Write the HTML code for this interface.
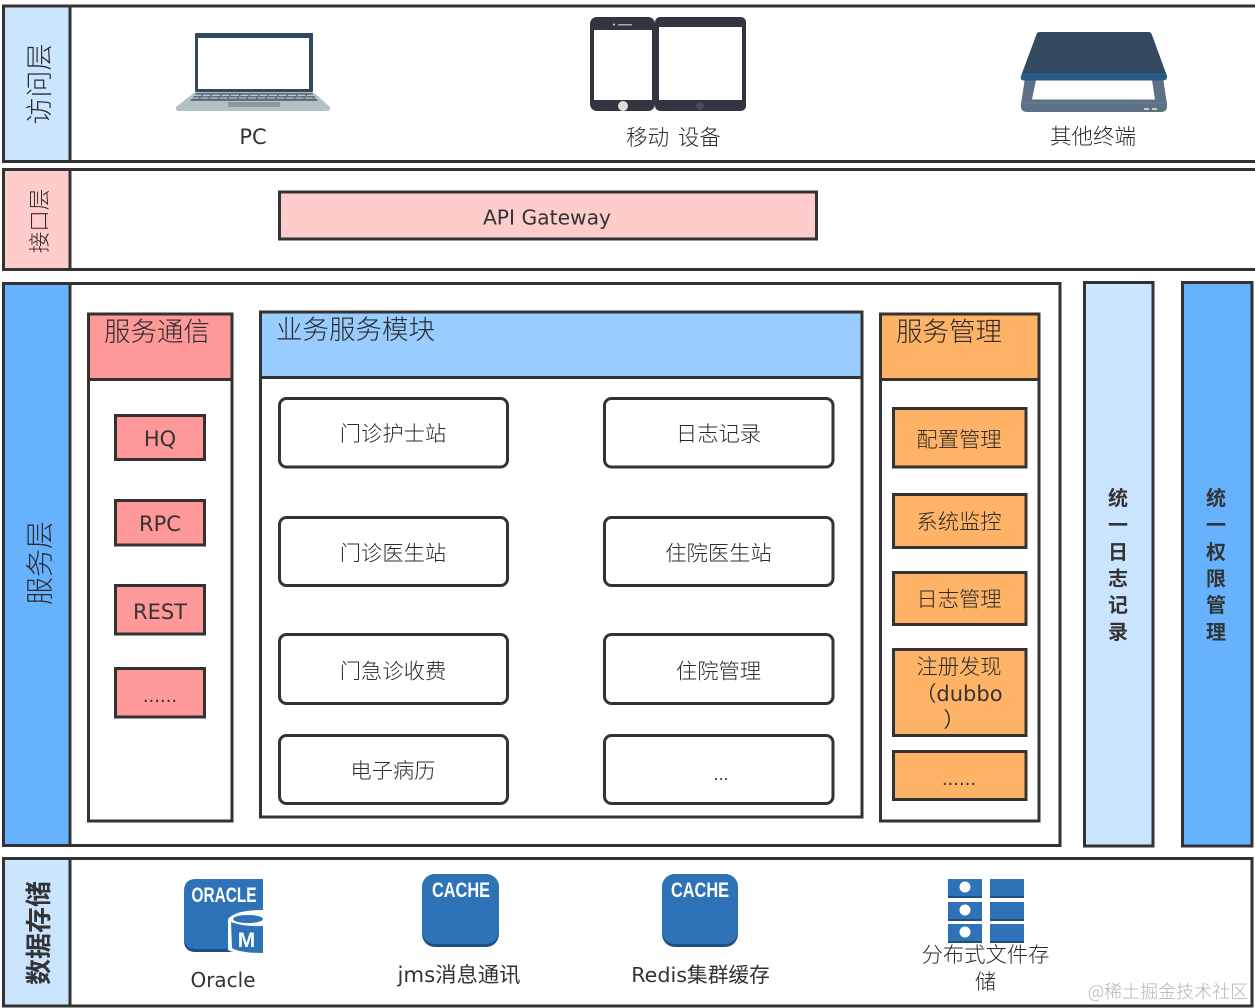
<!DOCTYPE html>
<html><head><meta charset="utf-8">
<style>
html,body{margin:0;padding:0;background:#fff;width:1255px;height:1008px;overflow:hidden}
svg{display:block}
text{font-family:"DejaVu Sans","Noto Sans CJK SC",sans-serif;fill:#333;text-anchor:middle;font-size:21px}
.c{font-family:"Noto Sans CJK SC",sans-serif;font-weight:300;font-size:21.300px;fill:#2b2b2b}
.b{font-family:"Noto Sans CJK SC",sans-serif;font-weight:700}
.h{font-size:26.500px;text-anchor:start}
.o{font-family:"Liberation Sans",sans-serif;font-weight:700;fill:#fff}
rect{stroke:#333;stroke-width:3}
.i rect,.i path,.i circle,.i ellipse{stroke:none}
</style></head><body>
<svg width="1255" height="1008" viewBox="0 0 1255 1008" xmlns="http://www.w3.org/2000/svg">
<!-- access -->
<rect x="3.500" y="6" width="1260" height="155.500" fill="#fff"/>
<rect x="3.500" y="6" width="66.500" height="155.500" fill="#cce5ff"/>
<text class="c" style="font-size:27px" transform="translate(49,84) rotate(-90)">访问层</text>
<!-- interface -->
<rect x="3.500" y="169.500" width="1260" height="100" fill="#fff"/>
<rect x="3.500" y="169.500" width="66.500" height="100" fill="#ffcccc"/>
<text class="c" style="font-size:21.500px" transform="translate(47,221) rotate(-90)">接口层</text>
<rect x="279.500" y="192" width="537" height="47" fill="#ffcccc"/>
<text x="547" y="224.500" style="font-size:20.300px">API Gateway</text>
<!-- service -->
<rect x="3.500" y="283.500" width="1056.500" height="562" fill="#fff"/>
<rect x="3.500" y="283.500" width="66.500" height="562" fill="#66b2ff"/>
<text class="c" style="font-size:28px" transform="translate(49.500,563) rotate(-90)">服务层</text>
<!-- comm -->
<rect x="88.500" y="314" width="143.500" height="507" fill="#fff"/>
<rect x="88.500" y="314" width="143.500" height="65.500" fill="#ff9999"/>
<text class="c h" x="104" y="341">服务通信</text>
<rect x="115.500" y="415.500" width="89" height="44" fill="#ff9999"/>
<text x="160" y="446">HQ</text>
<rect x="115.500" y="500.500" width="89" height="44.500" fill="#ff9999"/>
<text x="160" y="531">RPC</text>
<rect x="115.500" y="585.500" width="89" height="48.500" fill="#ff9999"/>
<text x="160" y="619">REST</text>
<rect x="115.500" y="668.500" width="89" height="48.500" fill="#ff9999"/>
<text x="160" y="702" style="font-size:18px">......</text>
<!-- biz -->
<rect x="260.500" y="312" width="601.500" height="505" fill="#fff"/>
<rect x="260.500" y="312" width="601.500" height="65.500" fill="#99ccff"/>
<text class="c h" x="276" y="339">业务服务模块</text>
<g>
<rect x="279.500" y="398.500" width="228" height="68.500" rx="7" fill="#fff"/>
<rect x="604.500" y="398.500" width="228.500" height="68.500" rx="7" fill="#fff"/>
<rect x="279.500" y="517.500" width="228" height="68" rx="7" fill="#fff"/>
<rect x="604.500" y="517.500" width="228.500" height="68" rx="7" fill="#fff"/>
<rect x="279.500" y="634.500" width="228" height="69" rx="7" fill="#fff"/>
<rect x="604.500" y="634.500" width="228.500" height="69" rx="7" fill="#fff"/>
<rect x="279.500" y="735.500" width="228" height="68" rx="7" fill="#fff"/>
<rect x="604.500" y="735.500" width="228.500" height="68" rx="7" fill="#fff"/>
</g>
<text class="c" x="393" y="441">门诊护士站</text>
<text class="c" x="718.500" y="441">日志记录</text>
<text class="c" x="393" y="560.500">门诊医生站</text>
<text class="c" x="718.500" y="560.500">住院医生站</text>
<text class="c" x="393" y="678.500">门急诊收费</text>
<text class="c" x="718.500" y="678.500">住院管理</text>
<text class="c" x="393" y="778">电子病历</text>
<text x="721" y="780" style="font-size:16px">...</text>
<!-- mgmt -->
<rect x="880.500" y="314" width="158.500" height="507" fill="#fff"/>
<rect x="880.500" y="314" width="158.500" height="65.500" fill="#ffb366"/>
<text class="c h" x="896" y="341">服务管理</text>
<rect x="893.500" y="408.500" width="132.500" height="58.500" fill="#ffb366"/>
<text class="c" x="959" y="447">配置管理</text>
<rect x="893.500" y="494.500" width="132.500" height="53" fill="#ffb366"/>
<text class="c" x="959" y="529">系统监控</text>
<rect x="893.500" y="572.500" width="132.500" height="52" fill="#ffb366"/>
<text class="c" x="959" y="606.500">日志管理</text>
<rect x="893.500" y="649.500" width="132.500" height="86" fill="#ffb366"/>
<text class="c" x="959" y="674">注册发现</text>
<text x="959" y="701">（dubbo</text>
<text x="954" y="727">）</text>
<rect x="893.500" y="751.500" width="132.500" height="48" fill="#ffb366"/>
<text x="959" y="785" style="font-size:18px">......</text>
<!-- bars -->
<rect x="1084.500" y="282.500" width="68.500" height="563.500" fill="#cce5ff"/>
<rect x="1182.500" y="282.500" width="69.500" height="563.500" fill="#66b2ff"/>
<g>
<text class="b" style="font-size:20px" x="1118" y="505">统</text>
<text class="b" style="font-size:20px" x="1118" y="532">一</text>
<text class="b" style="font-size:20px" x="1118" y="559">日</text>
<text class="b" style="font-size:20px" x="1118" y="585.500">志</text>
<text class="b" style="font-size:20px" x="1118" y="612">记</text>
<text class="b" style="font-size:20px" x="1118" y="639">录</text>
<text class="b" style="font-size:20px" x="1216" y="505">统</text>
<text class="b" style="font-size:20px" x="1216" y="532">一</text>
<text class="b" style="font-size:20px" x="1216" y="559">权</text>
<text class="b" style="font-size:20px" x="1216" y="585.500">限</text>
<text class="b" style="font-size:20px" x="1216" y="612">管</text>
<text class="b" style="font-size:20px" x="1216" y="639">理</text>
</g>
<!-- data -->
<rect x="3.500" y="858.500" width="1248.500" height="147.500" fill="#fff"/>
<rect x="3.500" y="858.500" width="66.500" height="147.500" fill="#cce5ff"/>
<text class="b" style="font-size:26px" transform="translate(48,933) rotate(-90)">数据存储</text>

<!-- laptop -->
<g class="i">
<rect x="195" y="33" width="118" height="59" rx="1" fill="#34495e"/>
<rect x="198" y="38" width="111" height="51" fill="#fff"/>
<path d="M195 92H313L330 107Q331 111 327 111H179Q175 111 176 107Z" fill="#b3c0c4"/>
<path d="M196 93H312L318 101H190Z" fill="#5f6e78"/>
<path d="M193 95.300H315M191 98H317" fill="none" style="stroke:#c8d2d6;stroke-width:1.100;stroke-dasharray:8 1.500"/>
<rect x="228" y="102" width="52" height="5" fill="#8a989f"/>
</g>
<!-- phone & tablet -->
<g class="i">
<rect x="590" y="17" width="65" height="94" rx="7" fill="#32343f"/>
<rect x="655" y="17" width="91" height="94" rx="5" fill="#32343f"/>
<rect x="594" y="30" width="58" height="70" fill="#fff"/>
<rect x="659" y="27" width="83" height="73" fill="#fff"/>
<circle cx="623" cy="106" r="5" fill="#ddd"/>
<circle cx="700" cy="106" r="4" fill="#4a4c58"/>
<rect x="618" y="24" width="14" height="1.500" fill="#aaa"/>
<circle cx="614" cy="24.500" r="1" fill="#ddd"/>
</g>
<!-- scanner -->
<g class="i">
<path d="M1025 78H1163L1167 104V106Q1167 112 1161 112H1027Q1021 112 1021 106V104Z" fill="#5d7085"/>
<path d="M1036 80H1152L1155 99.500H1032Z" fill="#fff"/>
<path d="M1021 103H1167" fill="none" style="stroke:#6c7f92;stroke-width:1"/>
<path d="M1037 33Q1038 32 1040 32H1149Q1151 32 1152 35L1167 76Q1167 80 1163 80H1024Q1020 80 1021 76Z" fill="#33495f"/>
<path d="M1022.500 73H1165.500L1167 77Q1167 80.500 1163 80.500H1024Q1020 80.500 1021 77Z" fill="#275a85"/>
<rect x="1144" y="108" width="5" height="2" fill="#c5d89a"/>
<rect x="1152" y="108" width="5" height="2" fill="#c5d89a"/>
</g>
<text x="253" y="144">PC</text>
<text class="c" x="673.500" y="145" style="font-size:21.500px;word-spacing:4px">移动 设备</text>
<text class="c" x="1093" y="144" style="font-size:21.500px">其他终端</text>

<!-- oracle -->
<g class="i">
<path d="M196 879H263V952H196Q184 952 184 940V891Q184 879 196 879Z" fill="#2e73b8"/>
<path d="M184 940Q184 952 196 952H230V949H196Q186 949 184 940Z" fill="#1f4f80"/>
<path d="M263 910Q235 910 228 919V950Q234 954 263 954Z" fill="#fff"/>
<path d="M231 922Q244 927 263 926V953Q240 953 232 948Z" fill="#2e73b8"/>
<ellipse cx="248" cy="919" rx="15" ry="4" fill="#2e73b8"/>
</g>
<text class="o" style="font-size:21px" textLength="65" lengthAdjust="spacingAndGlyphs" x="224" y="902">ORACLE</text>
<text class="o" style="font-size:21px" x="246.500" y="947">M</text>
<!-- caches -->
<g class="i">
<rect x="422" y="874" width="77" height="73" rx="13" fill="#1f4f80"/>
<rect x="422" y="874" width="77" height="70" rx="13" fill="#2e73b8"/>
<rect x="662" y="874" width="76" height="73" rx="13" fill="#1f4f80"/>
<rect x="662" y="874" width="76" height="70" rx="13" fill="#2e73b8"/>
</g>
<text class="o" style="font-size:21px" textLength="58" lengthAdjust="spacingAndGlyphs" x="461" y="897">CACHE</text>
<text class="o" style="font-size:21px" textLength="58" lengthAdjust="spacingAndGlyphs" x="700" y="897">CACHE</text>
<!-- grid -->
<g class="i">
<rect x="948" y="879" width="34" height="19" fill="#1f4f80"/><rect x="990" y="879" width="34" height="19" fill="#1f4f80"/>
<rect x="948" y="902" width="34" height="19" fill="#1f4f80"/><rect x="990" y="902" width="34" height="19" fill="#1f4f80"/>
<rect x="948" y="924" width="34" height="19" fill="#1f4f80"/><rect x="990" y="924" width="34" height="19" fill="#1f4f80"/>
<rect x="948" y="879" width="34" height="17" fill="#2e73b8"/><rect x="990" y="879" width="34" height="17" fill="#2e73b8"/>
<rect x="948" y="902" width="34" height="17" fill="#2e73b8"/><rect x="990" y="902" width="34" height="17" fill="#2e73b8"/>
<rect x="948" y="924" width="34" height="17" fill="#2e73b8"/><rect x="990" y="924" width="34" height="17" fill="#2e73b8"/>
<circle cx="965" cy="887" r="5.500" fill="#fff"/>
<circle cx="965" cy="910" r="5.500" fill="#fff"/>
<circle cx="965" cy="932" r="5.500" fill="#fff"/>
</g>
<text x="223" y="987" style="font-size:20px">Oracle</text>
<text x="459" y="982" style="font-size:21.300px">jms消息通讯</text>
<text x="700.500" y="982" style="font-size:20.700px">Redis集群缓存</text>
<text class="c" x="985.500" y="962">分布式文件存</text>
<text class="c" x="985.500" y="989">储</text>
<text class="c" x="1168" y="998" style="font-size:18px;fill:#b5b5b5">@稀土掘金技术社区</text>
</svg>
</body></html>
